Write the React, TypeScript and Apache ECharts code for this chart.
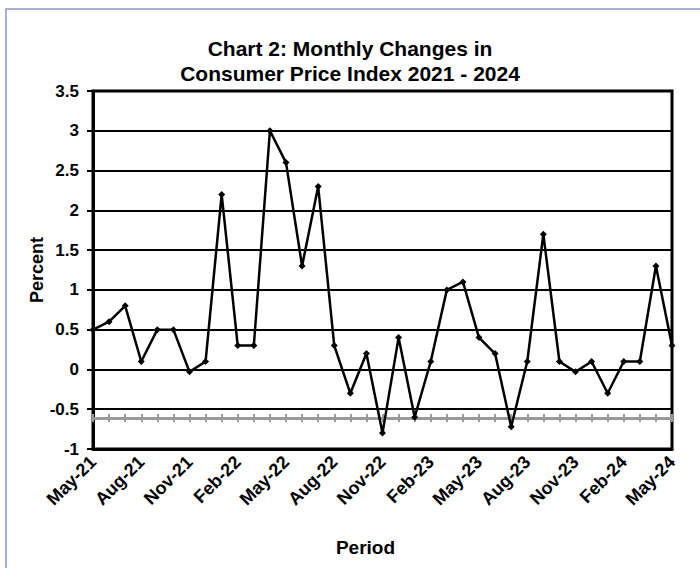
import React, { useEffect, useRef } from "react";
import * as echarts from "echarts";

const categories = [
  "May-21", "Jun-21", "Jul-21", "Aug-21", "Sep-21", "Oct-21", "Nov-21", "Dec-21",
  "Jan-22", "Feb-22", "Mar-22", "Apr-22", "May-22", "Jun-22", "Jul-22", "Aug-22",
  "Sep-22", "Oct-22", "Nov-22", "Dec-22", "Jan-23", "Feb-23", "Mar-23", "Apr-23",
  "May-23", "Jun-23", "Jul-23", "Aug-23", "Sep-23", "Oct-23", "Nov-23", "Dec-23",
  "Jan-24", "Feb-24", "Mar-24", "Apr-24", "May-24",
];

const cpiChange = [
  0.5, 0.6, 0.8, 0.1, 0.5, 0.5, -0.03, 0.1,
  2.2, 0.3, 0.3, 3.0, 2.6, 1.3, 2.3, 0.3,
  -0.3, 0.2, -0.8, 0.4, -0.6, 0.1, 1.0, 1.1,
  0.4, 0.2, -0.72, 0.1, 1.7, 0.1, -0.03, 0.1,
  -0.3, 0.1, 0.1, 1.3, 0.3,
];

const yMin = -1;
const yMax = 3.5;
const yStep = 0.5;
const crossValue = -0.61;

const FONT = "'Liberation Sans', Arial, Helvetica, sans-serif";

export default function App() {
  const ref = useRef<HTMLDivElement>(null);
  useEffect(() => {
    if (!ref.current) return;
    const chart = echarts.init(ref.current, null, { renderer: "svg" });
    const gridTop = 91;
    const gridBottom = 119;
    const plotH = 568 - gridTop - gridBottom;
    const crossOffset = -Math.round(((crossValue - yMin) / (yMax - yMin)) * plotH);
    const tickAxisBase = {
      type: "category" as const,
      data: categories,
      boundaryGap: false,
      position: "bottom" as const,
      offset: crossOffset,
      axisLabel: { show: false },
      splitLine: { show: false },
    };
    chart.setOption({
      animation: false,
      backgroundColor: "#fff",
      title: {
        text: "Chart 2: Monthly Changes in\nConsumer Price Index 2021 - 2024",
        left: 345,
        top: 31,
        textAlign: "center",
        textStyle: {
          fontFamily: FONT,
          fontWeight: "bold",
          fontSize: 21,
          lineHeight: 25,
          color: "#000",
        },
      },
      graphic: [
        {
          type: "rect",
          shape: { x: 6, y: 9, width: 800, height: 700 },
          style: { fill: "none", stroke: "#8a96c8", lineWidth: 1.5 },
          silent: true,
        },
      ],
      grid: {
        left: 93,
        right: 28,
        top: gridTop,
        bottom: gridBottom,
        show: true,
        borderColor: "#000",
        borderWidth: 3,
      },
      xAxis: [
        {
          type: "category",
          data: categories,
          boundaryGap: false,
          position: "bottom",
          name: "Period",
          nameLocation: "middle",
          nameGap: 89,
          nameMoveOverlap: false,
          nameTextStyle: {
            fontFamily: FONT,
            fontWeight: "bold",
            fontSize: 19,
            color: "#000",
            padding: [0, 34, 0, 0],
          },
          axisLine: { show: true, onZero: false, lineStyle: { color: "#000", width: 3 } },
          axisTick: { show: false },
          axisLabel: {
            interval: 2,
            rotate: 45,
            margin: 10,
            fontFamily: FONT,
            fontWeight: "bold",
            fontSize: 18,
            color: "#000",
          },
          splitLine: { show: false },
        },
        {
          ...tickAxisBase,
          axisLine: { show: true, onZero: false, lineStyle: { color: "#999", width: 3 } },
          axisTick: {
            show: true,
            interval: 0,
            inside: false,
            length: 4,
            lineStyle: { color: "#999", width: 2 },
          },
        },
        {
          ...tickAxisBase,
          axisLine: { show: false, onZero: false },
          axisTick: {
            show: true,
            interval: 0,
            inside: true,
            length: 4,
            lineStyle: { color: "#999", width: 2 },
          },
        },
      ],
      yAxis: {
        type: "value",
        min: yMin,
        max: yMax,
        interval: yStep,
        name: "Percent",
        nameLocation: "middle",
        nameGap: 47,
        nameMoveOverlap: false,
        nameTextStyle: {
          fontFamily: FONT,
          fontWeight: "bold",
          fontSize: 18,
          color: "#000",
        },
        axisLine: { show: true, lineStyle: { color: "#000", width: 3 } },
        axisTick: { show: true, length: 6, lineStyle: { color: "#000", width: 2 } },
        axisLabel: {
          margin: 14,
          fontFamily: FONT,
          fontWeight: "bold",
          fontSize: 17,
          color: "#000",
        },
        splitLine: { show: true, lineStyle: { color: "#000", width: 2 } },
      },
      series: [
        {
          type: "line",
          data: cpiChange,
          xAxisIndex: 0,
          symbol: "diamond",
          symbolSize: 7,
          showAllSymbol: true,
          lineStyle: { color: "#000", width: 2.5 },
          itemStyle: { color: "#000" },
          z: 5,
        },
      ],
    });
    return () => chart.dispose();
  }, []);
  return (
    <div
      ref={ref}
      style={{ position: "absolute", left: 0, top: 0, width: 700, height: 568 }}
    />
  );
}
